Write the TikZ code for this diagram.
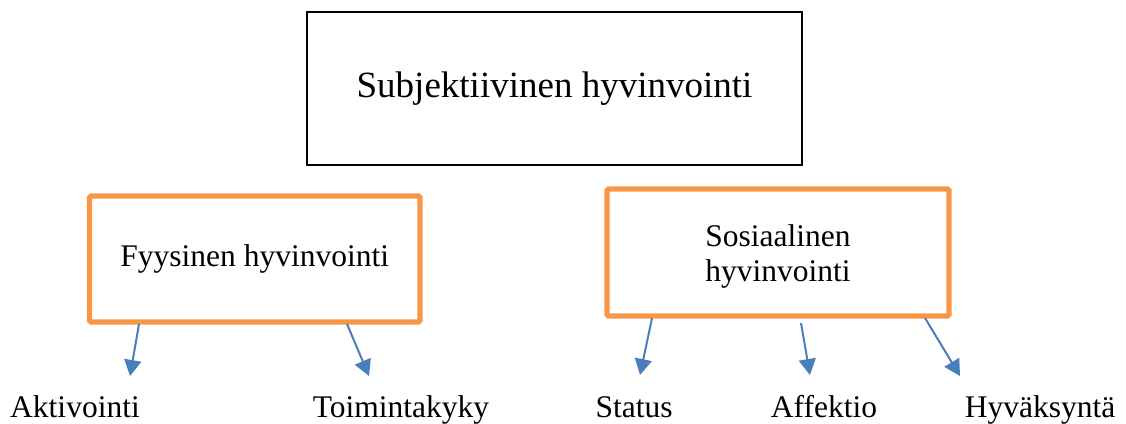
\documentclass[tikz,border=0pt]{standalone}
\usepackage{fontspec}
\setmainfont{Liberation Serif}
\usetikzlibrary{arrows.meta,calc}
\definecolor{boxorange}{HTML}{F79646}
\definecolor{arrowblue}{HTML}{4A7EBB}
\begin{document}
\begin{tikzpicture}[x=1pt,y=-1pt,
  topbox/.style={draw=black,line width=1.2pt,minimum width=495pt,minimum height=153pt,inner sep=0pt,
    font=\fontsize{37}{44}\selectfont},
  subbox/.style={draw=boxorange,line width=5.2pt,rounded corners=1.5pt,inner sep=0pt,
    font=\fontsize{31.5}{35}\selectfont,align=center},
  leaf/.style={anchor=base,inner sep=0pt,font=\fontsize{31.5}{35}\selectfont},
  conn/.style={draw=arrowblue,line width=2pt,-{Triangle[length=16pt,width=17pt]}}]
\useasboundingbox (0,0) rectangle (1126,423);
\node[topbox] (top) at (554.5,88.5) {Subjektiivinen hyvinvointi};
\node[subbox,minimum width=330.5pt,minimum height=126pt] (fyys) at (254.75,259) {\raisebox{-2pt}{Fyysinen hyvinvointi}};
\node[subbox,minimum width=342pt,minimum height=127pt,
  label={[font=\fontsize{31.5}{35}\selectfont,align=center,yshift=-4pt]center:Sosiaalinen\\hyvinvointi}] (sos) at (778,252.5) {};
\node[leaf] (akt) at (75,417) {Aktivointi};
\node[leaf] (toim) at (401,417) {Toimintakyky};
\node[leaf] (stat) at (634,417) {Status};
\node[leaf] (aff) at (824,417) {Affektio};
\node[leaf] (hyv) at (1040,417) {Hyväksyntä};
\coordinate (f1) at (139,324);
\coordinate (f2) at (347,324);
\coordinate (s1) at (652,318);
\coordinate (s2) at (801,323);
\coordinate (s3) at (925,318);
\coordinate (t1) at (130,376);
\coordinate (t2) at (369,376);
\coordinate (t3) at (640,375);
\coordinate (t4) at (810,375);
\coordinate (t5) at (960,376);
\draw[conn] (f1) -- (t1);
\draw[conn] (f2) -- (t2);
\draw[conn] (s1) -- (t3);
\draw[conn] (s2) -- (t4);
\draw[conn] (s3) -- (t5);
\end{tikzpicture}
\end{document}
